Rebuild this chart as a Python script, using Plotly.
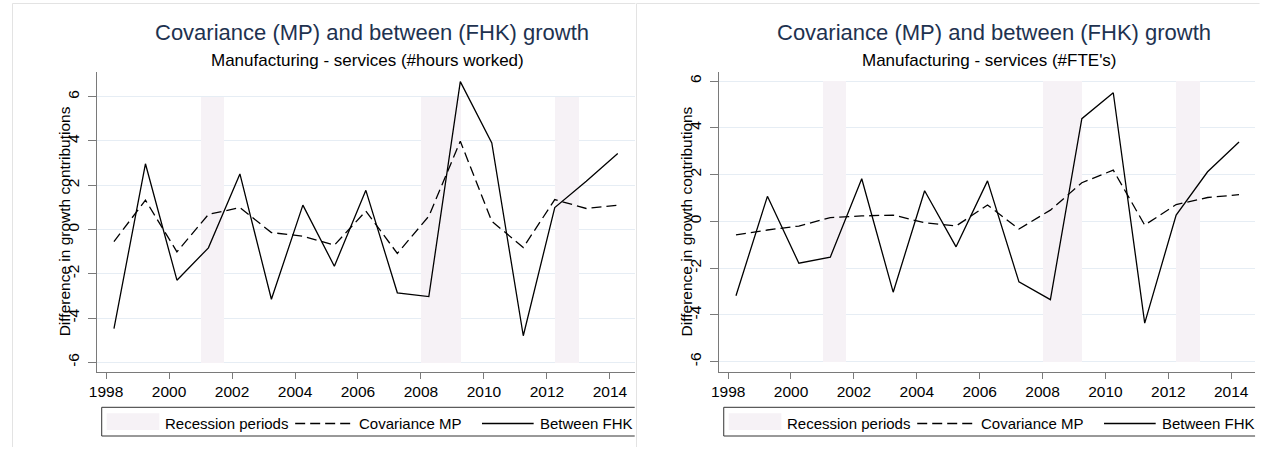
import plotly.graph_objects as go

# ---- data -------------------------------------------------------------
period = [1998.25, 1999.25, 2000.25, 2001.25, 2002.25, 2003.25, 2004.25, 2005.25,
          2006.25, 2007.25, 2008.25, 2009.25, 2010.25, 2011.25, 2012.25, 2013.25, 2014.25]

# Manufacturing - services, #hours worked
hours_cov_mp = [-0.55, 1.33, -1.01, 0.68, 0.99, -0.14, -0.30, -0.71,
                0.83, -1.08, 0.60, 3.99, 0.37, -0.81, 1.35, 0.95, 1.10]
hours_between_fhk = [-4.48, 2.97, -2.29, -0.83, 2.51, -3.15, 1.10, -1.66,
                     1.77, -2.86, -3.03, 6.68, 3.91, -4.80, 0.99, 2.18, 3.43]

# Manufacturing - services, #FTE's
fte_cov_mp = [-0.58, -0.37, -0.20, 0.16, 0.23, 0.27, -0.06, -0.20,
              0.70, -0.33, 0.48, 1.65, 2.19, -0.16, 0.72, 1.02, 1.14]
fte_between_fhk = [-3.18, 1.07, -1.79, -1.53, 1.82, -3.03, 1.31, -1.09,
                   1.73, -2.59, -3.35, 4.39, 5.50, -4.35, 0.27, 2.12, 3.39]

recession_start = [2001.0, 2008.0, 2012.25]
recession_end = [2001.75, 2009.25, 2013.0]
band_floor, band_ceiling = -6, 6

y_ticks = [-6, -4, -2, 0, 2, 4, 6]
y_tick_text = ["-6", "-4", "-2", "0", "2", "4", "6"]
x_ticks = [1998, 2000, 2002, 2004, 2006, 2008, 2010, 2012, 2014]

title_text = "Covariance (MP) and between (FHK) growth"
subtitles = ["Manufacturing - services (#hours worked)", "Manufacturing - services (#FTE's)"]
y_title = "Difference in growth contributions"
legend_labels = ["Recession periods", "Covariance MP", "Between FHK"]

# ---- styling ----------------------------------------------------------
W, H = 1266, 451
FONT = "Liberation Sans, Arial, sans-serif"
BAND = "#f6f2f6"
GRID = "#e6edf4"
AXIS = "#7a7a7a"
TITLE_COLOR = "#1e3250"


def px(x):
    return x / W


def py(y):
    return 1 - y / H


fig = go.Figure()

panels = [
    dict(cov=hours_cov_mp, fhk=hours_between_fhk, x0=89.3, x1=630.7,
         xrange=[1997.703, 2014.789], yrange=[-6.425, 7.13], sub=subtitles[0], dx=0),
    dict(cov=fte_cov_mp, fhk=fte_between_fhk, x0=715.3, x1=1255.0,
         xrange=[1997.703, 2014.76], yrange=[-6.43, 6.40], sub=subtitles[1], dx=626),
]

band_center = [(a + b) / 2 for a, b in zip(recession_start, recession_end)]
band_width = [b - a for a, b in zip(recession_start, recession_end)]

annotations = []
shapes = []

for i, p in enumerate(panels):
    sfx = "" if i == 0 else str(i + 1)
    xa, ya = "x" + sfx, "y" + sfx

    fig.add_trace(go.Bar(
        x=band_center, y=[band_ceiling - band_floor] * len(band_center),
        base=[band_floor] * len(band_center), width=band_width,
        marker=dict(color=BAND, line=dict(width=0)),
        xaxis=xa, yaxis=ya, showlegend=False, hoverinfo="skip"))
    fig.add_trace(go.Scatter(
        x=period, y=p["cov"], mode="lines",
        line=dict(color="black", width=1.3, dash="10px,5px"),
        xaxis=xa, yaxis=ya, showlegend=False))
    fig.add_trace(go.Scatter(
        x=period, y=p["fhk"], mode="lines",
        line=dict(color="black", width=1.3),
        xaxis=xa, yaxis=ya, showlegend=False))

    axis_common = dict(showline=True, linecolor=AXIS, linewidth=1.2,
                       ticks="outside", tickcolor=AXIS, tickwidth=1.2,
                       zeroline=False, tickfont=dict(family=FONT, size=15.5, color="black"))
    fig.update_layout({
        "xaxis" + sfx: dict(domain=[px(p["x0"]), px(p["x1"])], range=p["xrange"],
                            tickvals=x_ticks, ticklen=6, showgrid=False,
                            anchor=ya, **axis_common),
        "yaxis" + sfx: dict(domain=[py(371.7), py(71.7)], range=p["yrange"],
                            tickvals=y_ticks, ticktext=y_tick_text, ticklen=8, tickangle=-90,
                            ticklabelstandoff=2,
                            showgrid=True, gridcolor=GRID, gridwidth=1,
                            anchor=xa, **axis_common),
    })

    dx = p["dx"]
    # titles
    annotations.append(dict(text=title_text, x=px(366 + dx), y=py(33), xref="paper", yref="paper",
                            showarrow=False, xanchor="center", yanchor="middle",
                            font=dict(family=FONT, size=22, color=TITLE_COLOR)))
    annotations.append(dict(text=p["sub"], x=px(362 + dx), y=py(60), xref="paper", yref="paper",
                            showarrow=False, xanchor="center", yanchor="middle",
                            font=dict(family=FONT, size=17, color="black")))
    annotations.append(dict(text=y_title, x=px(57 + dx), y=py(221.7), xref="paper", yref="paper",
                            showarrow=False, xanchor="center", yanchor="middle", textangle=-90,
                            font=dict(family=FONT, size=15.5, color="black")))

    # legend box (open on the right where the panel ends)
    lx0, lx1, ly0, ly1 = 94.3 + dx, p["x1"], 407.3, 436.0
    for (a, b, c, d) in [(lx0, ly0, lx1, ly0), (lx0, ly1, lx1, ly1), (lx0, ly0, lx0, ly1)]:
        shapes.append(dict(type="line", xref="paper", yref="paper",
                           x0=px(a), y0=py(b), x1=px(c), y1=py(d),
                           line=dict(color="#333333", width=1)))
    shapes.append(dict(type="rect", xref="paper", yref="paper",
                       x0=px(99.3 + dx), x1=px(152.3 + dx), y0=py(430), y1=py(413.3),
                       fillcolor=BAND, line=dict(width=0)))
    shapes.append(dict(type="line", xref="paper", yref="paper",
                       x0=px(289 + dx), x1=px(347 + dx), y0=py(423.5), y1=py(423.5),
                       line=dict(color="black", width=1.3, dash="10px,5px")))
    shapes.append(dict(type="line", xref="paper", yref="paper",
                       x0=px(477 + dx), x1=px(529 + dx), y0=py(423.5), y1=py(423.5),
                       line=dict(color="black", width=1.3)))
    for label, lx in zip(legend_labels, [156, 351, 533]):
        annotations.append(dict(text=label, x=px(lx + dx), y=py(423), xref="paper", yref="paper",
                                showarrow=False, xanchor="left", yanchor="middle",
                                font=dict(family=FONT, size=15, color="black")))

    # faint graph-region frame
    fx0 = 4.5 + (dx and 628)
    shapes.append(dict(type="line", xref="paper", yref="paper",
                       x0=px(fx0), x1=px(fx0 + 627), y0=py(3.5), y1=py(3.5),
                       line=dict(color="#e3e3e3", width=1)))
    shapes.append(dict(type="line", xref="paper", yref="paper",
                       x0=px(fx0), x1=px(fx0), y0=py(3.5), y1=py(447),
                       line=dict(color="#e3e3e3", width=1)))

fig.update_layout(
    width=W, height=H, margin=dict(l=0, r=0, t=0, b=0),
    paper_bgcolor="white", plot_bgcolor="white",
    bargap=0, barmode="overlay",
    annotations=annotations, shapes=shapes,
    font=dict(family=FONT, color="black"),
)

fig.write_html("out.html")
